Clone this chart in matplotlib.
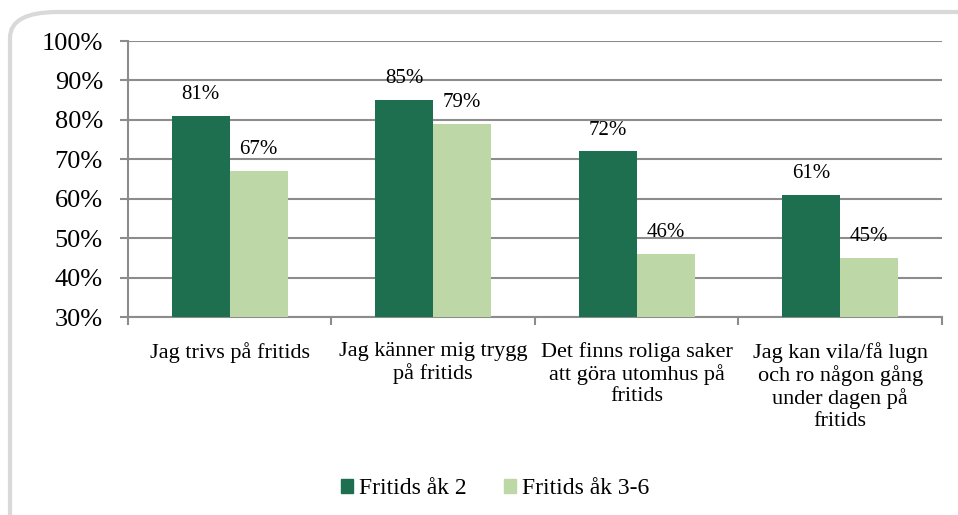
import numpy as np
import matplotlib
matplotlib.use("Agg")
import matplotlib.pyplot as plt
from matplotlib.patches import FancyBboxPatch, Patch

categories = ["Jag trivs på fritids",
              "Jag känner mig trygg\npå fritids",
              "Det finns roliga saker\natt göra utomhus på\nfritids",
              "Jag kan vila/få lugn\noch ro någon gång\nunder dagen på\nfritids"]
series_names = ["Fritids åk 2", "Fritids åk 3-6"]
ak2 = [81, 85, 72, 61]
ak36 = [67, 79, 46, 45]
yticks = [30, 40, 50, 60, 70, 80, 90, 100]

dark = "#1d6f50"
light = "#bdd7a6"
grid = "#8c8c8c"

plt.rcParams['font.family'] = ['Liberation Serif', 'DejaVu Serif']

fig = plt.figure(figsize=(9.58, 5.15), dpi=100)

# rounded frame around the chart
frame = FancyBboxPatch((10/958, -0.05), 1.2, 1.0 - 12/515 + 0.05,
                       boxstyle="round,pad=0,rounding_size=0.05",
                       transform=fig.transFigure, facecolor="none",
                       edgecolor="#d9d9d9", linewidth=3, zorder=0)
fig.patches.append(frame)

ax = fig.add_axes([128/958, 1-317/515, (942-128)/958, (317-41)/515])
ax.set_facecolor("none")

x = np.arange(len(categories))
w = 0.285
b1 = ax.bar(x - w/2, np.array(ak2) - 30, w, bottom=30, color=dark, zorder=3)
b2 = ax.bar(x + w/2, np.array(ak36) - 30, w, bottom=30, color=light, zorder=3)

for xs, vals in [(x - w/2, ak2), (x + w/2, ak36)]:
    for xi, v in zip(xs, vals):
        ax.text(xi, v + 3, f"{v}%", ha="center", va="bottom", fontsize=15, zorder=4)

ax.set_xlim(-0.5, len(categories) - 0.5)
ax.set_ylim(30, 100)
ax.set_yticks(yticks)
ax.set_yticklabels([f"{t}%" for t in yticks], fontsize=19)
ax.yaxis.grid(True, color=grid, linewidth=1.5, zorder=1)
ax.tick_params(axis="y", length=6, color=grid, width=1.5, pad=12)

ax.set_xticks(np.arange(len(categories) + 1) - 0.5)
ax.set_xticklabels([])
ax.tick_params(axis="x", length=6, color=grid, width=1.5)
ax.set_xticks(x, minor=True)
ax.set_xticklabels(categories, minor=True, fontsize=16, linespacing=1.15)
ax.tick_params(axis="x", which="minor", length=0, pad=18)

for s in ["top", "right"]:
    ax.spines[s].set_visible(False)
for s in ["left", "bottom"]:
    ax.spines[s].set_color(grid)
    ax.spines[s].set_linewidth(1.5)

handles = [Patch(color=dark), Patch(color=light)]
fig.legend(handles, series_names, loc="center", bbox_to_anchor=(495/958, 1-489/515),
           ncol=2, frameon=False, fontsize=17, handlelength=0.5, handleheight=0.5,
           handletextpad=0.25, columnspacing=1.6)

fig.savefig("out.png", dpi=100)
